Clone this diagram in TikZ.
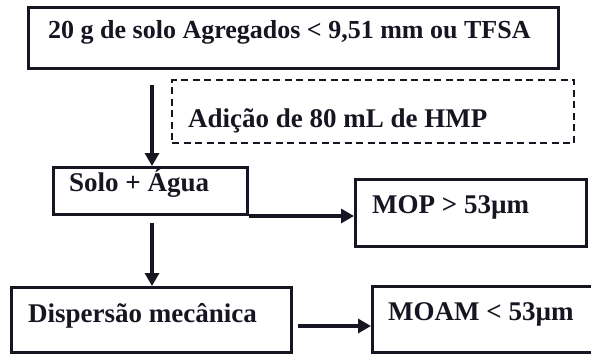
\documentclass[tikz,border=0pt]{standalone}
\usepackage{fontspec}
\setmainfont{Liberation Serif}
\usetikzlibrary{arrows.meta,calc}
\definecolor{ink}{RGB}{22,22,34}
\tikzset{
  box/.style={draw=ink, line width=3pt, rectangle, inner sep=0pt, anchor=north west},
  dbox/.style={draw=ink, line width=2.4pt, dash pattern=on 7pt off 4.5pt, rectangle, inner sep=0pt, anchor=north west},
  lbl/.style={anchor=base west, inner sep=0pt, text=ink, font=\fontsize{27}{30}\selectfont\bfseries},
  arr/.style={draw=ink, line width=3.4pt, -{Triangle[length=13pt,width=14pt]}},
}
\begin{document}
\begin{tikzpicture}[x=1pt,y=-1pt]
\useasboundingbox (0,0) rectangle (591,353);
\clip (0,0) rectangle (591,353);
\fill[white] (0,0) rectangle (591,353);
% boxes
\node[box, minimum width=530pt, minimum height=61pt] (b1) at (27,6) {};
\node[dbox, minimum width=402pt, minimum height=63pt] (hmp) at (171,79) {};
\node[box, minimum width=194pt, minimum height=47pt] (solo) at (52,166) {};
\node[box, minimum width=231pt, minimum height=67pt] (mop) at (354,178) {};
\node[box, minimum width=280pt, minimum height=65pt] (disp) at (10,286) {};
\node[box, minimum width=240pt, minimum height=66pt] (moam) at (371,285) {};
% texts
\node[lbl, font=\fontsize{26}{30}\selectfont\bfseries] (t1) at (48,39) {20 g de solo Agregados < 9,51 mm ou TFSA};
\node[lbl] (t2) at (188,127) {Adição de 80 mL de HMP};
\node[lbl] (t3) at (69,191) {Solo + Água};
\node[lbl] (t4) at (372,213) {MOP > 53µm};
\node[lbl] (t5) at (28,322) {Dispersão mecânica};
\node[lbl] (t6) at (388,320) {MOAM < 53µm};
% connectors
\coordinate (a1s) at (152,85);
\draw[arr] (a1s) -- (a1s |- solo.north);
\draw[arr] (solo.south east) -- (mop.west |- solo.south east);
\draw[arr, shorten <=7pt] (solo.south -| a1s) -- (disp.north -| a1s);
\coordinate (a3s) at ($(disp.east)+(5,6)$);
\draw[arr] (a3s) -- (moam.west |- a3s);
\end{tikzpicture}
\end{document}
